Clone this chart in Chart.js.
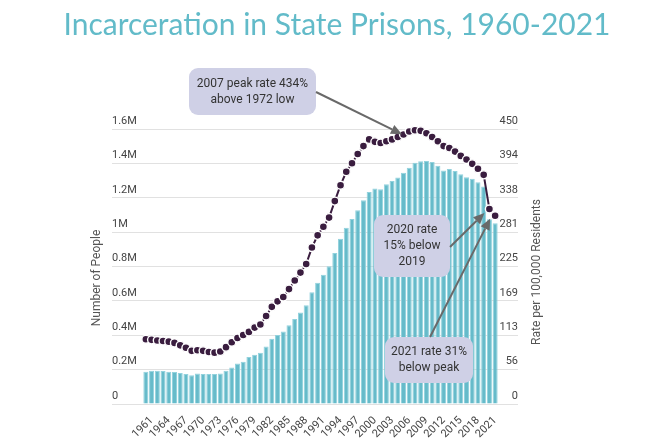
<!DOCTYPE html>
<html lang="en">
<head>
<meta charset="UTF-8">
<title>Incarceration in State Prisons, 1960-2021</title>
<script src="https://cdn.jsdelivr.net/npm/chart.js"></script>
<style>
    html, body { margin: 0; padding: 0; background: #fff; }
    .chart-box { width: 651px; height: 442px; position: relative; }
</style>
</head>
<body>
<div class="chart-box"><canvas id="myChart"></canvas></div>
<script>
const years = [1960, 1961, 1962, 1963, 1964, 1965, 1966, 1967, 1968, 1969,
    1970, 1971, 1972, 1973, 1974, 1975, 1976, 1977, 1978, 1979,
    1980, 1981, 1982, 1983, 1984, 1985, 1986, 1987, 1988, 1989,
    1990, 1991, 1992, 1993, 1994, 1995, 1996, 1997, 1998, 1999,
    2000, 2001, 2002, 2003, 2004, 2005, 2006, 2007, 2008, 2009,
    2010, 2011, 2012, 2013, 2014, 2015, 2016, 2017, 2018, 2019,
    2020, 2021];

// number of people in state prisons
const prisoners = [187000, 193000, 193000, 192000, 187000, 186000, 180000, 174000, 168000, 177000,
    175000, 175000, 174000, 178000, 193000, 213000, 235000, 246000, 273000, 287000,
    298000, 335000, 379000, 402000, 422000, 458000, 495000, 532000, 574000, 650000,
    705000, 752000, 802000, 878000, 962000, 1025000, 1076000, 1127000, 1185000, 1234000,
    1254000, 1249000, 1278000, 1297000, 1318000, 1345000, 1375000, 1403000, 1412000, 1414000,
    1408000, 1386000, 1358000, 1367000, 1355000, 1337000, 1319000, 1311000, 1290000, 1265000,
    1075000, 1051000];

// rate per 100,000 residents
const ratePer100k = [106, 105, 104, 103, 102, 100, 96, 92, 87, 88,
    87, 85, 84, 86, 93, 101, 108, 113, 118, 125,
    130, 144, 159, 168, 175, 188, 202, 215, 229, 256,
    276, 290, 305, 332, 358, 380, 394, 409, 422, 433,
    429, 427, 430, 433, 437, 441, 446, 448, 447, 443,
    437, 430, 422, 419, 413, 406, 400, 393, 385, 375,
    319, 308];

const xTickYears = [1961, 1964, 1967, 1970, 1973, 1976, 1979, 1982, 1985, 1988, 1991,
    1994, 1997, 2000, 2003, 2006, 2009, 2012, 2015, 2018, 2021];
const peopleTicks = ['0', '0.2M', '0.4M', '0.6M', '0.8M', '1M', '1.2M', '1.4M', '1.6M'];
const rateTicks = ['0', '56', '113', '169', '225', '281', '338', '394', '450'];

const notes = [
    { lines: ['2007 peak rate 434%', 'above 1972 low'], year: 2007,
      box: [189, 68, 127, 47], from: [316, 92], tip: [-13, 4] },
    { lines: ['2020 rate', '15% below', '2019'], year: 2020,
      box: [374, 215, 76, 62], from: [450, 247], tip: [-5, 4] },
    { lines: ['2021 rate 31%', 'below peak'], year: 2021,
      box: [385, 337, 88, 46], from: [430, 337], tip: [-5, 3] }
];

const tickFont = { family: 'Roboto', size: 11 };
const gridColor = '#e1e1e1';

function roundRect(ctx, x, y, w, h, r) {
    ctx.beginPath();
    ctx.moveTo(x + r, y);
    ctx.arcTo(x + w, y, x + w, y + h, r);
    ctx.arcTo(x + w, y + h, x, y + h, r);
    ctx.arcTo(x, y + h, x, y, r);
    ctx.arcTo(x, y, x + w, y, r);
    ctx.closePath();
}

function arrow(ctx, x1, y1, x2, y2) {
    const a = Math.atan2(y2 - y1, x2 - x1);
    const len = 11, half = 5;
    const bx = x2 - len * Math.cos(a), by = y2 - len * Math.sin(a);
    ctx.beginPath();
    ctx.moveTo(x1, y1);
    ctx.lineTo(bx, by);
    ctx.stroke();
    ctx.beginPath();
    ctx.moveTo(x2, y2);
    ctx.lineTo(bx + half * Math.sin(a), by - half * Math.cos(a));
    ctx.lineTo(bx - half * Math.sin(a), by + half * Math.cos(a));
    ctx.closePath();
    ctx.fill();
}

// title, axis titles and the three notes
const decor = {
    id: 'decor',
    afterDraw(chart) {
        const ctx = chart.ctx;
        ctx.save();
        ctx.fillStyle = '#62bbc9';
        ctx.font = '30px Lato';
        ctx.textAlign = 'center';
        ctx.textBaseline = 'alphabetic';
        ctx.fillText('Incarceration in State Prisons, 1960-2021', 337, 35);

        ctx.fillStyle = '#555';
        ctx.font = '12px Roboto';
        ctx.textBaseline = 'middle';
        ctx.save();
        ctx.translate(97, 278);
        ctx.rotate(-Math.PI / 2);
        ctx.fillText('Number of People', 0, 0);
        ctx.restore();
        ctx.save();
        ctx.translate(537, 272);
        ctx.rotate(-Math.PI / 2);
        ctx.fillText('Rate per 100,000 Residents', 0, 0);
        ctx.restore();

        const pts = chart.getDatasetMeta(1).data;
        notes.forEach(n => {
            const [bx, by, bw, bh] = n.box;
            ctx.fillStyle = '#cfd0e6';
            roundRect(ctx, bx, by, bw, bh, 9);
            ctx.fill();
            ctx.fillStyle = '#333';
            ctx.font = '12px Roboto';
            const lh = 16;
            const y0 = by + bh / 2 - (n.lines.length - 1) * lh / 2;
            n.lines.forEach((t, i) => ctx.fillText(t, bx + bw / 2, y0 + i * lh));

            const p = pts[years.indexOf(n.year)];
            ctx.strokeStyle = '#696969';
            ctx.fillStyle = '#696969';
            ctx.lineWidth = 2;
            arrow(ctx, n.from[0], n.from[1], p.x + n.tip[0], p.y + n.tip[1]);
        });
        ctx.restore();
    }
};

const ctx = document.getElementById('myChart');
new Chart(ctx, {
    data: {
        labels: years,
        datasets: [{
            type: 'bar',
            label: 'Number of People',
            data: prisoners,
            yAxisID: 'y',
            backgroundColor: '#66bbca',
            borderColor: '#92d2dd',
            borderWidth: 1,
            barPercentage: 0.88,
            categoryPercentage: 1,
            order: 2
        }, {
            type: 'line',
            label: 'Rate per 100,000 Residents',
            data: ratePer100k,
            yAxisID: 'y1',
            borderColor: '#3a1d3f',
            borderWidth: 2,
            pointRadius: 4,
            pointBackgroundColor: '#3a1d3f',
            pointBorderColor: '#ffffff',
            pointBorderWidth: 1.4,
            clip: false,
            order: 1
        }]
    },
    options: {
        responsive: true,
        maintainAspectRatio: false,
        animation: false,
        layout: { padding: { left: 112, right: 133, top: 129, bottom: 0 } },
        plugins: {
            legend: { display: false },
            tooltip: { enabled: false }
        },
        scales: {
            x: {
                offset: true,
                grid: { display: false },
                border: { display: false },
                ticks: {
                    autoSkip: false,
                    minRotation: 45,
                    maxRotation: 45,
                    padding: 2,
                    color: '#444',
                    font: tickFont,
                    callback: function (v, i) {
                        return xTickYears.includes(years[i]) ? String(years[i]) : '';
                    }
                },
                afterFit: s => { s.height = 38; }
            },
            y: {
                position: 'left',
                min: 0,
                max: 1600000,
                border: { display: false },
                grid: { color: gridColor, tickLength: 31 },
                ticks: {
                    stepSize: 200000,
                    crossAlign: 'far',
                    labelOffset: -8,
                    padding: 0,
                    color: '#444',
                    font: tickFont,
                    callback: (v, i) => peopleTicks[i]
                },
                afterFit: s => { s.width = 31; }
            },
            y1: {
                position: 'right',
                min: 0,
                max: 450,
                border: { display: false },
                grid: { color: gridColor, tickLength: 20, drawOnChartArea: false },
                ticks: {
                    stepSize: 56.25,
                    crossAlign: 'far',
                    labelOffset: -8,
                    padding: 0,
                    color: '#444',
                    font: tickFont,
                    callback: (v, i) => rateTicks[i]
                },
                afterFit: s => { s.width = 20; }
            }
        }
    },
    plugins: [decor]
});
</script>
</body>
</html>
